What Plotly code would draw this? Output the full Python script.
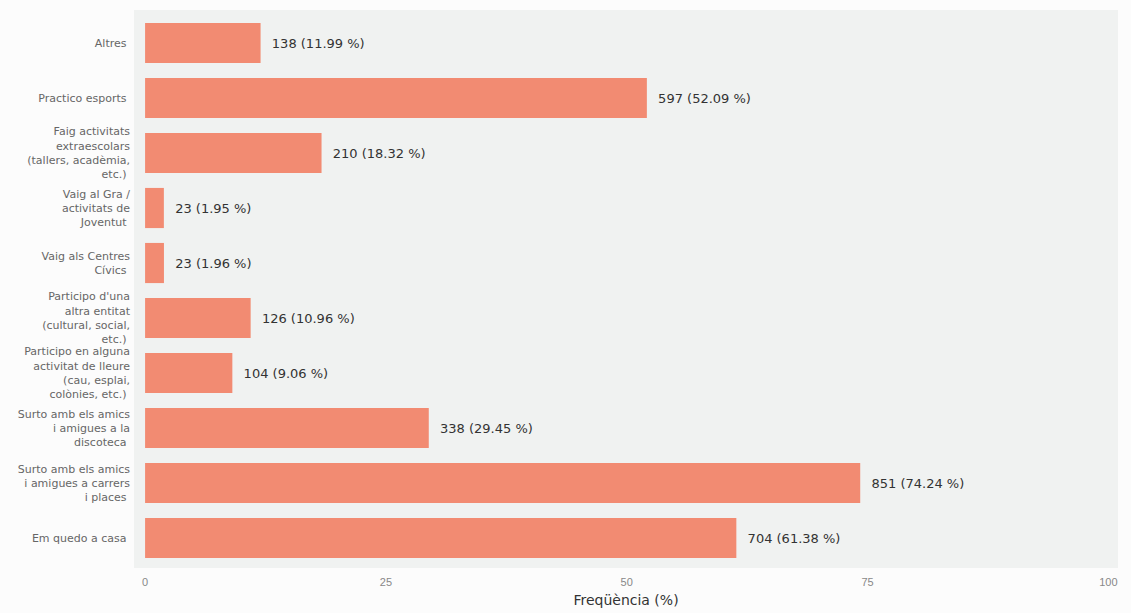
import plotly.graph_objects as go

categories = [
    "Altres",
    "Practico esports",
    "Faig activitats<br>extraescolars<br>(tallers, acadèmia,<br>etc.)",
    "Vaig al Gra /<br>activitats de<br>Joventut",
    "Vaig als Centres<br>Cívics",
    "Participo d'una<br>altra entitat<br>(cultural, social,<br>etc.)",
    "Participo en alguna<br>activitat de lleure<br>(cau, esplai,<br>colònies, etc.)",
    "Surto amb els amics<br>i amigues a la<br>discoteca",
    "Surto amb els amics<br>i amigues a carrers<br>i places",
    "Em quedo a casa",
]
counts = [138, 597, 210, 23, 23, 126, 104, 338, 851, 704]
percents = [11.99, 52.09, 18.32, 1.95, 1.96, 10.96, 9.06, 29.45, 74.24, 61.38]
x_ticks = [0, 25, 50, 75, 100]

labels = [f"  {c} ({p:.2f} %)" for c, p in zip(counts, percents)]

fig = go.Figure(go.Bar(
    x=percents,
    y=categories,
    orientation="h",
    marker=dict(color="#F28B72", line=dict(width=0)),
    width=0.73,
    text=labels,
    textposition="outside",
    textfont=dict(size=13, color="#333333", family="DejaVu Sans"),
    cliponaxis=False,
))

fig.update_layout(
    width=1131, height=613,
    margin=dict(l=134, r=13, t=10, b=45, autoexpand=False),
    paper_bgcolor="#FCFCFC",
    plot_bgcolor="#F0F2F1",
    font=dict(family="DejaVu Sans", size=11, color="#666666"),
    showlegend=False,
    xaxis=dict(
        range=[-1.15, 101.0],
        tickvals=x_ticks,
        showgrid=False, zeroline=False, automargin=False,
        ticks="", ticklabelstandoff=6,
        tickfont=dict(size=11, color="#888888", family="Liberation Sans"),
        title=dict(text="Freqüència (%)", font=dict(size=14, color="#333333", family="DejaVu Sans"), standoff=8),
    ),
    yaxis=dict(
        autorange=False,
        range=[9.545, -0.6],
        categoryorder="array", categoryarray=categories,
        showgrid=False, zeroline=False, automargin=False,
        ticks="", ticklen=0, ticklabelstandoff=3,
        tickfont=dict(size=11, color="#666666", family="DejaVu Sans"),
        ticksuffix=" ",
    ),
)

fig.write_html(
    "out.html",
    config={"displayModeBar": False},
    post_script="document.body.style.margin='0';document.body.style.background='#FCFCFC';",
)
